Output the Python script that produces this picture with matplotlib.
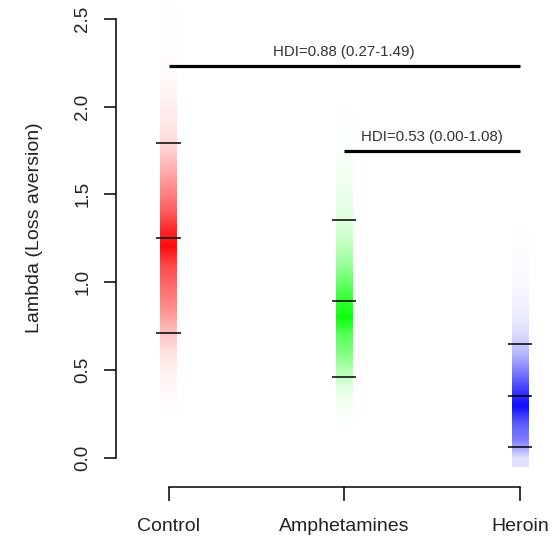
import numpy as np
import matplotlib
matplotlib.use("Agg")
import matplotlib.pyplot as plt

plt.rcParams['font.family'] = ['Liberation Sans', 'DejaVu Sans']

# ---- data ----
groups = ["Control", "Amphetamines", "Heroin"]
group_colors = [(1.0, 0.0, 0.0), (0.0, 1.0, 0.0), (0.0, 0.0, 1.0)]
hdi_low = [0.71, 0.46, 0.06]
medians = [1.25, 0.89, 0.35]
hdi_high = [1.79, 1.355, 0.65]

# posterior density intensity (0-1) read at lambda = 0.0, 0.1, ..., 2.6
lam_grid = [round(0.1 * k, 1) for k in range(27)]
dens_control = [0, 0, 0, 0.01, 0.03, 0.06, 0.12, 0.22, 0.38, 0.5, 0.6, 0.72, 0.95,
                0.85, 0.65, 0.5, 0.38, 0.25, 0.15, 0.1, 0.07, 0.04, 0.02, 0.015,
                0.01, 0.01, 0.01]
dens_amph = [0, 0, 0.01, 0.04, 0.12, 0.3, 0.5, 0.65, 0.95, 0.8, 0.6, 0.4, 0.27,
             0.17, 0.11, 0.08, 0.05, 0.035, 0.02, 0.012, 0.008, 0, 0, 0, 0, 0, 0]
dens_heroin = [0.12, 0.5, 0.65, 0.95, 0.75, 0.5, 0.28, 0.15, 0.08, 0.05, 0.03, 0.02,
               0.01, 0.005, 0, 0, 0, 0, 0, 0, 0, 0, 0, 0, 0, 0, 0]
densities = [dens_control, dens_amph, dens_heroin]

# pairwise comparisons: (from group, to group, line height, label)
comp_from = [1, 2]
comp_to = [3, 3]
comp_y = [2.228, 1.745]
comp_labels = ["HDI=0.88 (0.27-1.49)", "HDI=0.53 (0.00-1.08)"]

yticks = [0.0, 0.5, 1.0, 1.5, 2.0, 2.5]
ytick_labels = ["0.0", "0.5", "1.0", "1.5", "2.0", "2.5"]

# ---- figure ----
fig = plt.figure(figsize=(5.6, 5.36), dpi=100)
ax = fig.add_axes([0.2068, 0.1132, 0.7846, 0.8847])

xpos = [1, 2, 3]
bar_w = 0.095
tick_hw = 0.069
step = lam_grid[1] - lam_grid[0]
for x, dens, col in zip(xpos, densities, group_colors):
    img = np.zeros((len(dens), 1, 4))
    img[:, 0, 0] = col[0]
    img[:, 0, 1] = col[1]
    img[:, 0, 2] = col[2]
    img[:, 0, 3] = np.clip(np.array(dens), 0, 1)
    ax.imshow(img, origin='lower', aspect='auto', interpolation='bilinear',
              extent=[x - bar_w / 2, x + bar_w / 2,
                      lam_grid[0] - step / 2, lam_grid[-1] + step / 2],
              zorder=1)

for x, lo, md, hi in zip(xpos, hdi_low, medians, hdi_high):
    ax.hlines([lo, md, hi], x - tick_hw, x + tick_hw, colors='black',
              lw=1.1, zorder=3)

for a, b, yv, lab in zip(comp_from, comp_to, comp_y, comp_labels):
    ax.hlines(yv, a, b, colors='black', lw=2.3, zorder=3)
    ax.annotate(lab, xy=((a + b) / 2, yv), xytext=(0, 10.5),
                textcoords='offset points', ha='center', va='center',
                fontsize=10.8, color='#333333')

ax.set_xlim(0.7, 3.2)
ax.set_ylim(-0.1, 2.6)

for s in ['top', 'right']:
    ax.spines[s].set_visible(False)
ax.spines['left'].set_bounds(0, 2.5)
ax.spines['bottom'].set_bounds(1, 3)
ax.spines['bottom'].set_position(('outward', 8.6))
ax.spines['left'].set_linewidth(1.1)
ax.spines['bottom'].set_linewidth(1.1)

ax.set_yticks(yticks)
ax.set_yticklabels(ytick_labels, rotation=90, va='center', fontsize=13.5,
                   color='#222222')
ax.set_xticks(xpos)
ax.set_xticklabels(groups, fontsize=14, color='#222222')
ax.tick_params(axis='y', length=8.6, width=1.1, pad=9)
ax.tick_params(axis='x', length=10, width=1.1, pad=12)

fig.text(35 / 560, 1 - 228 / 536, "Lambda (Loss aversion)", rotation=90,
         ha='center', va='center', fontsize=14, color='#222222')

fig.savefig("out.png", dpi=100)
